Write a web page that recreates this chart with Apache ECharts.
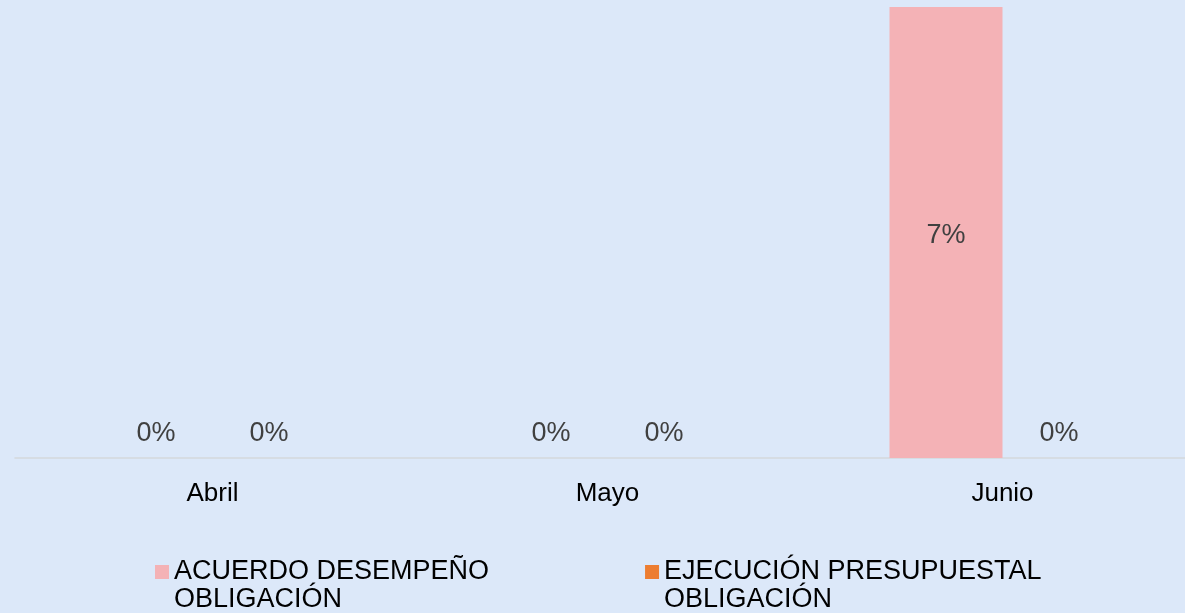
<!DOCTYPE html>
<html>
<head>
<meta charset="utf-8">
<script src="https://cdn.jsdelivr.net/npm/echarts@6/dist/echarts.min.js"></script>
<style>
html,body{margin:0;padding:0;background:#dce8f9;overflow:hidden;width:1185px;height:613px;}
#c{width:1200px;height:613px;}
</style>
</head>
<body>
<div id="c"></div>
<script>
var categories = ['Abril', 'Mayo', 'Junio'];
var acuerdoDesempeno = [0, 0, 0.07];
var ejecucionPresupuestal = [0, 0, 0];
var seriesNames = ['ACUERDO DESEMPEÑO\nOBLIGACIÓN', 'EJECUCIÓN PRESUPUESTAL\nOBLIGACIÓN'];

var FONT = '"Liberation Sans", Arial, sans-serif';

function pct(p) { return Math.round(p.value * 100) + '%'; }

function makeData(arr) {
  return arr.map(function (v) {
    if (v === 0) {
      return { value: v, label: { position: 'top', distance: 11 } };
    }
    return { value: v, label: { position: 'inside', offset: [0, 3] } };
  });
}

var chart = echarts.init(document.getElementById('c'), null, { renderer: 'canvas' });
chart.setOption({
  backgroundColor: '#dce8f9',
  animation: false,
  grid: { left: 15, right: 0, top: 7, bottom: 155, containLabel: false },
  xAxis: {
    type: 'category',
    data: categories,
    axisLine: { show: true, lineStyle: { color: '#d3d7dc', width: 1.5 } },
    axisTick: { show: false },
    axisLabel: { color: '#000', fontFamily: FONT, fontSize: 26, margin: 23 },
    splitLine: { show: false }
  },
  yAxis: { type: 'value', min: 0, max: 0.07, show: false, splitLine: { show: false } },
  legend: {
    left: 155,
    top: 530,
    padding: 0,
    itemGap: 156,
    itemWidth: 14,
    itemHeight: 14,
    itemStyle: { borderWidth: 0 },
    formatter: function (name) { return '\n' + name; },
    textStyle: { color: '#000', fontFamily: FONT, fontSize: 27, lineHeight: 28 },
    data: [
      { name: seriesNames[0], icon: 'rect' },
      { name: seriesNames[1], icon: 'rect' }
    ]
  },
  series: [
    {
      name: seriesNames[0],
      type: 'bar',
      data: makeData(acuerdoDesempeno),
      barWidth: 113,
      barGap: '0%',
      itemStyle: { color: '#f4b2b6' },
      label: { show: true, formatter: pct, color: '#404040', fontFamily: FONT, fontSize: 27 }
    },
    {
      name: seriesNames[1],
      type: 'bar',
      data: makeData(ejecucionPresupuestal),
      barWidth: 113,
      barGap: '0%',
      itemStyle: { color: '#ed7d31' },
      label: { show: true, formatter: pct, color: '#404040', fontFamily: FONT, fontSize: 27 }
    }
  ]
});
</script>
</body>
</html>
